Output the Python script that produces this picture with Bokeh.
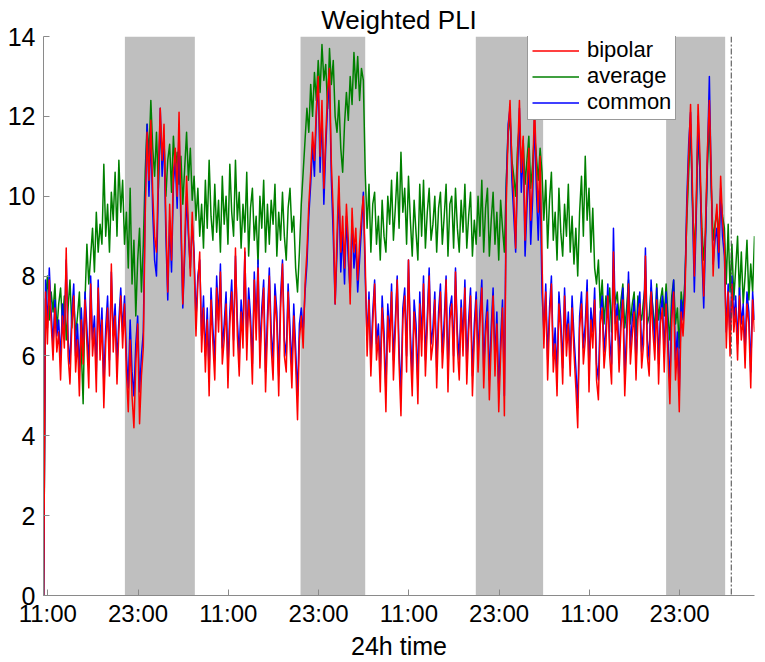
import numpy as np
from bokeh.plotting import figure
from bokeh.models import Range1d, FixedTicker, BoxAnnotation, Span, Legend, LegendItem
from bokeh.embed import file_html
from bokeh.resources import INLINE

# ---- data: hours since the first 11:00 tick, one sample every 0.25 h ----
t0 = -0.55
dt = 0.25

bipolar = [
    0.0,
    7.6, 6.3, 7.9, 6.8, 5.9, 7.2, 6.1, 6.6, 5.4, 7.0,
    6.2, 8.7, 6.0, 5.3, 6.8, 7.5, 5.6, 6.4, 5.0, 6.9,
    5.8, 7.4, 6.3, 5.2, 7.8, 6.0, 6.7, 5.1, 7.7, 5.9,
    6.9, 4.7, 6.3, 7.2, 5.5, 8.3, 6.1, 7.0, 5.3, 6.6,
    7.5, 6.2, 7.3,
    5.6, 4.6, 6.4, 5.0, 4.2, 5.8, 6.8, 4.3, 5.5, 6.2,
    9.5, 11.6, 10.4, 11.9, 10.1, 9.0, 8.6, 10.6, 12.2, 10.9,
    11.8, 9.4, 7.6, 9.8, 8.4, 10.6, 11.2, 10.0, 12.1, 9.6,
    7.3, 8.8, 10.5, 9.2, 8.0, 9.6, 8.4,
    6.5, 7.8, 8.6, 6.1, 7.2, 5.6, 6.9, 5.0, 7.4, 6.3,
    5.4, 7.7, 6.6, 8.1, 5.8, 6.4, 7.3, 5.2, 6.8, 7.6,
    6.0, 8.7, 6.5, 5.5, 7.1, 6.2, 8.7, 5.9, 7.4, 6.7,
    5.3, 7.9, 6.4, 8.2, 5.7, 6.9, 7.7, 5.1, 6.6, 8.0,
    6.2, 5.4, 7.5, 6.8, 5.0, 7.2, 8.3, 6.0, 5.6, 7.6,
    6.3, 5.2, 7.0, 5.8, 4.4, 6.4,
    7.0, 6.2, 7.8, 8.6, 9.8, 10.6, 11.6, 10.9, 12.2, 13.0,
    11.0, 12.4, 10.2, 11.5, 12.6, 13.2, 10.8, 9.6, 7.3, 9.0,
    10.5, 8.6, 9.5, 8.2, 9.8, 8.9, 7.3, 9.7, 8.6, 9.2,
    7.9, 8.8, 9.5, 10.0, 8.4,
    6.0, 7.4, 5.5, 6.8, 7.8, 5.9, 6.5, 5.1, 7.2, 6.3,
    4.6, 7.0, 6.1, 7.6, 5.4, 6.6, 7.9, 5.8, 4.5, 6.9,
    7.5, 5.6, 8.4, 6.2, 5.0, 7.1, 6.4, 4.8, 7.3, 6.0,
    7.8, 5.5, 6.7, 8.0, 5.9, 6.3, 7.4, 5.2, 6.8, 7.6,
    5.7, 6.5, 7.9, 5.1, 6.9, 7.3, 5.6, 8.1, 6.2, 5.4,
    7.2, 6.0, 7.7, 5.3, 6.6, 7.5, 5.0, 6.4,
    7.4, 5.6, 6.8, 7.7, 5.2, 6.5, 7.1, 4.9, 6.3, 7.5,
    5.5, 6.8, 4.6, 6.0, 7.2, 4.5,
    9.8, 11.6, 12.4, 10.8, 10.0, 8.7, 11.0, 12.4, 10.6, 11.5,
    8.9, 10.2, 11.2, 9.4, 10.4, 12.3, 10.8, 9.6, 11.0, 8.4,
    6.2, 7.6, 5.4, 6.9, 7.8, 5.6, 6.3, 5.0, 7.3, 6.6,
    5.3, 7.5, 6.0, 6.8, 5.5, 7.2, 6.1, 5.2, 4.2, 6.7,
    7.3, 5.8, 6.4, 7.6, 5.1, 6.9, 6.2, 7.4, 5.4, 4.9,
    6.8, 7.2, 5.7, 6.3, 7.5, 6.0, 5.3, 8.6, 6.4, 7.0,
    5.6, 6.7, 7.4, 5.0, 6.2, 7.8, 5.8, 6.5, 7.1, 5.4,
    6.9, 7.3, 5.7, 6.3, 8.5, 6.0, 5.5, 7.6, 6.6, 5.9,
    7.4, 5.3, 6.8, 7.2, 5.6,
    7.3, 6.0, 4.8, 6.9, 7.6, 5.4, 6.2, 4.6, 7.1, 6.5, 7.4,
    9.6, 11.0, 12.3, 10.2, 8.0, 9.8, 12.3, 11.0, 9.0, 7.5,
    9.4, 11.2, 12.4, 10.6, 8.0, 9.2, 9.8, 8.6, 10.5, 9.4, 8.8,
    6.2, 7.6, 6.0, 7.8, 6.6, 7.2, 5.9, 7.5, 6.4, 7.0,
    5.7, 7.3, 6.8, 5.2, 7.4, 6.6,
]

common = [
    0.0,
    7.9, 6.7, 8.2, 7.1, 6.3, 7.4, 6.5, 6.9, 5.9, 7.3,
    6.6, 8.4, 6.4, 5.8, 7.1, 7.8, 6.0, 6.8, 5.6, 7.2,
    6.2, 7.6, 6.7, 5.7, 8.0, 6.4, 7.0, 5.6, 7.9, 6.3,
    7.2, 5.3, 6.7, 7.5, 5.9, 8.1, 6.5, 7.3, 5.8, 6.9,
    7.7, 6.6, 7.5,
    6.0, 5.2, 6.9, 5.6, 5.0, 6.3, 7.0, 5.1, 6.0, 6.6,
    9.9, 11.8, 10.0, 11.6, 9.6, 8.4, 8.0, 10.2, 12.2, 10.5,
    11.5, 9.0, 7.4, 9.4, 8.1, 10.3, 10.9, 9.7, 11.7, 9.2,
    7.2, 8.5, 10.0, 9.0, 8.2, 9.3, 8.6,
    6.9, 8.0, 8.4, 6.5, 7.5, 6.0, 7.2, 5.5, 7.7, 6.7,
    5.9, 8.0, 6.9, 8.3, 6.2, 6.8, 7.6, 5.7, 7.1, 7.9,
    6.4, 8.5, 6.9, 6.0, 7.4, 6.6, 8.6, 6.3, 7.7, 7.0,
    5.8, 8.1, 6.8, 8.4, 6.1, 7.2, 7.9, 5.6, 7.0, 8.2,
    6.6, 5.9, 7.8, 7.1, 5.5, 7.5, 8.4, 6.4, 6.0, 7.8,
    6.7, 5.7, 7.3, 6.2, 5.0, 6.8,
    7.2, 6.6, 7.6, 8.3, 9.5, 10.3, 11.3, 10.5, 12.0, 12.9,
    10.6, 12.1, 9.8, 11.2, 12.3, 12.9, 10.4, 9.0, 7.3, 8.6,
    10.2, 8.1, 9.1, 7.8, 9.5, 8.4, 7.6, 9.4, 8.2, 8.8,
    7.6, 8.4, 9.2, 10.1, 8.0,
    6.4, 7.6, 5.9, 7.1, 7.9, 6.3, 6.8, 5.6, 7.5, 6.6,
    5.1, 7.3, 6.5, 7.8, 5.9, 6.9, 8.0, 6.2, 5.0, 7.2,
    7.7, 6.0, 8.4, 6.6, 5.5, 7.4, 6.8, 5.3, 7.6, 6.4,
    8.0, 5.9, 7.0, 8.2, 6.3, 6.7, 7.6, 5.7, 7.1, 7.8,
    6.1, 6.9, 8.0, 5.6, 7.2, 7.5, 6.0, 8.2, 6.6, 5.9,
    7.4, 6.4, 7.9, 5.8, 6.9, 7.7, 5.5, 6.8,
    7.6, 6.0, 7.1, 7.9, 5.7, 6.8, 7.4, 5.4, 6.7, 7.7,
    5.9, 7.1, 5.1, 6.4, 7.4, 5.0,
    10.2, 11.8, 12.2, 10.4, 9.5, 8.6, 10.6, 12.2, 10.1, 11.2,
    8.5, 9.7, 10.8, 8.8, 9.9, 12.0, 10.2, 8.9, 10.4, 7.6,
    6.6, 7.8, 5.9, 7.2, 8.0, 6.0, 6.7, 5.5, 7.6, 6.9,
    5.7, 7.7, 6.4, 7.1, 5.9, 7.5, 6.5, 5.7, 4.7, 7.0,
    7.6, 6.2, 6.8, 7.9, 5.6, 7.2, 6.6, 7.7, 5.8, 5.4,
    7.1, 7.5, 6.1, 6.7, 7.8, 6.4, 5.8, 9.2, 6.8, 7.3,
    6.0, 7.0, 7.7, 5.5, 6.6, 8.1, 6.2, 6.9, 7.4, 5.8,
    7.2, 7.6, 6.1, 6.7, 8.7, 6.4, 5.9, 7.9, 7.0, 6.3,
    7.7, 5.8, 7.1, 7.5, 6.0,
    7.6, 6.4, 5.3, 7.2, 7.9, 5.9, 6.6, 5.1, 7.4, 6.9, 7.7,
    9.9, 11.3, 12.1, 9.8, 7.6, 9.4, 12.0, 10.6, 8.6, 7.2,
    9.0, 11.0, 13.0, 10.3, 8.3, 8.9, 9.2, 8.2, 10.2, 9.0, 8.5,
    6.6, 7.8, 6.4, 8.0, 6.9, 7.5, 6.3, 7.7, 6.8, 7.3,
    6.1, 7.6, 7.1, 5.6, 7.6, 6.9,
]

average = [
    0.0,
    7.4, 8.0, 6.9, 7.6, 7.1, 7.8, 6.6, 7.3, 7.7, 6.8,
    7.5, 6.4, 7.2, 7.9, 6.7, 7.4, 6.5, 7.0, 7.6, 6.2,
    4.8, 7.4, 8.8, 7.8, 8.5, 9.2, 8.1, 9.6, 8.6, 9.3,
    8.8, 10.8, 9.0, 9.8, 8.6, 10.1, 9.4, 10.6, 9.0, 10.9,
    9.6, 10.4, 8.8,
    9.6, 8.2, 10.2, 7.8, 8.9, 7.0, 8.4, 9.2, 7.6, 8.8,
    10.6, 11.8, 11.0, 12.4, 11.2, 10.5, 11.6, 10.2, 11.9, 10.8,
    11.4, 10.0, 10.9, 11.3, 10.1, 11.5, 10.6, 11.1, 10.3, 11.0,
    9.8, 10.7, 11.6, 10.4, 11.2, 9.9, 10.5,
    9.4, 10.2, 9.0, 9.8, 8.7, 10.4, 9.2, 10.9, 9.5, 8.9,
    10.3, 9.1, 9.9, 8.6, 10.5, 9.3, 10.0, 8.8, 10.8, 9.6,
    9.0, 10.9, 9.4, 10.1, 8.7, 9.8, 9.1, 10.6, 8.5, 9.7,
    10.2, 8.9, 9.5, 8.3, 10.0, 9.2, 10.4, 8.6, 9.8, 8.8,
    9.9, 9.3, 10.3, 8.5, 9.6, 8.9, 10.1, 9.0, 8.4, 9.7,
    10.2, 9.1, 9.5, 8.2, 7.6, 8.6,
    9.8, 10.6, 11.4, 12.2, 11.6, 12.8, 12.0, 13.1, 12.4, 13.4,
    12.6, 13.8, 12.9, 13.3, 12.2, 13.7, 12.8, 13.4, 12.0, 11.6,
    12.4, 11.2, 10.6, 11.8, 12.6, 11.9, 13.0, 12.3, 13.6, 12.7,
    13.5, 12.4, 13.2, 12.9, 10.6,
    9.2, 10.3, 8.6, 9.8, 10.1, 8.8, 9.5, 8.4, 9.9, 9.0,
    8.6, 10.0, 9.3, 10.4, 8.9, 9.7, 10.6, 9.2, 11.1, 9.6,
    10.2, 8.8, 10.5, 9.4, 8.5, 9.9, 9.1, 8.4, 10.3, 9.0,
    10.4, 8.7, 9.6, 10.2, 8.9, 9.3, 10.0, 8.6, 9.7, 10.1,
    8.8, 9.5, 10.3, 8.5, 9.8, 10.0, 8.7, 10.2, 9.2, 8.6,
    9.9, 9.1, 10.3, 8.7, 9.5, 10.1, 8.5, 9.4,
    8.8, 10.0, 9.0, 10.4, 8.6, 9.7, 10.2, 8.5, 9.4, 10.1,
    8.8, 9.6, 8.4, 9.9, 9.2, 8.6,
    10.4, 11.6, 12.0, 10.9, 10.5, 10.0, 11.2, 11.8, 10.6, 11.4,
    10.3, 10.9, 11.5, 10.2, 10.8, 11.6, 11.0, 10.4, 11.2, 10.6,
    9.4, 10.4, 8.7, 9.9, 10.6, 8.9, 9.6, 8.4, 10.2, 9.1,
    8.5, 9.8, 9.0, 10.3, 8.6, 9.5, 8.3, 9.2, 8.0, 9.6,
    10.5, 9.0, 11.0, 9.4, 10.2, 8.6, 9.7, 8.2, 7.8, 8.4,
    7.2, 7.9, 6.8, 7.5, 7.0, 7.7, 6.6, 8.0, 7.3, 7.6,
    6.9, 7.4, 7.8, 6.7, 7.2, 7.9, 6.8, 7.3, 7.6, 6.5,
    7.5, 7.1, 6.9, 7.4, 7.8, 6.8, 7.0, 7.7, 7.2, 6.6,
    7.8, 6.9, 7.4, 7.7, 7.0,
    7.8, 7.0, 6.4, 7.5, 7.9, 6.8, 7.2, 6.2, 7.6, 7.1, 7.9,
    9.4, 10.6, 11.8, 9.9, 8.6, 9.6, 11.6, 10.6, 9.2, 8.4,
    9.1, 10.8, 11.9, 10.2, 8.9, 9.3, 9.6, 9.0, 10.0, 9.5, 9.2,
    7.8, 9.3, 7.6, 8.8, 7.4, 8.2, 9.0, 7.5, 8.6, 7.3,
    8.0, 8.9, 7.4, 8.3, 7.6, 9.0,
]

tick_hours = [0, 12, 24, 36, 48, 60, 72, 84]
tick_labels = ["11:00", "23:00", "11:00", "23:00", "11:00", "23:00", "11:00", "23:00"]
y_ticks = [0, 2, 4, 6, 8, 10, 12, 14]

night_start = [10.25, 33.6, 56.9, 82.2]
night_end = [19.55, 42.2, 65.85, 90.05]
marker_hour = 90.86

series_names = ["bipolar", "average", "common"]
series_colors = {"bipolar": "#ff0000", "average": "#008000", "common": "#0000ff"}
x_lo, x_hi = -0.57, 93.95


def hours_for(vals):
    return [t0 + dt * i for i in range(len(vals))]


FONT = "Liberation Sans"

p = figure(
    width=758, height=662,
    output_backend="svg", toolbar_location=None,
    x_range=Range1d(x_lo, x_hi), y_range=Range1d(0, 14),
    min_border_left=43, min_border_right=4, min_border_top=36, min_border_bottom=66,
)
p.background_fill_color = "white"
p.border_fill_color = "white"
p.outline_line_color = None
p.grid.visible = False

p.title.text = "Weighted PLI"
p.title.align = "center"
p.title.text_font = FONT
p.title.text_font_size = "26px"
p.title.text_font_style = "normal"
p.title.text_color = "black"
if hasattr(p.title, "standoff"):
    p.title.standoff = 4
p.title.offset = 0

for ax in (p.xaxis[0], p.yaxis[0]):
    ax.axis_line_color = "#8a8a8a"
    ax.major_tick_line_color = "#8a8a8a"
    ax.minor_tick_line_color = None
    ax.major_tick_in = 6
    ax.major_tick_out = 0
    ax.major_label_text_font = FONT
    ax.major_label_text_color = "black"

p.xaxis.ticker = FixedTicker(ticks=tick_hours)
p.xaxis.major_label_overrides = {h: lab for h, lab in zip(tick_hours, tick_labels)}
p.xaxis.major_label_text_font_size = "24px"
p.xaxis.major_label_standoff = 4
p.xaxis.axis_label = "24h time"
p.xaxis.axis_label_text_font = FONT
p.xaxis.axis_label_text_font_size = "25px"
p.xaxis.axis_label_text_font_style = "normal"
p.xaxis.axis_label_text_color = "black"
p.xaxis.axis_label_standoff = 2

p.yaxis.ticker = FixedTicker(ticks=y_ticks)
p.yaxis.major_label_text_font_size = "25px"
p.yaxis.major_label_standoff = 8

for s, e in zip(night_start, night_end):
    p.add_layout(BoxAnnotation(left=s, right=e, fill_color="#bfbfbf", fill_alpha=1.0,
                               line_color=None, level="underlay"))

data = {"bipolar": bipolar, "average": average, "common": common}
renderers = {}
for name in ["average", "common", "bipolar"]:
    vals = data[name]
    renderers[name] = p.line(hours_for(vals), vals, line_color=series_colors[name],
                             line_width=1.5, line_join="round")

p.add_layout(Span(location=marker_hour, dimension="height", line_color="#444444",
                  line_width=1, line_dash="6 2 2 2"))

legend = Legend(
    items=[LegendItem(label=n, renderers=[renderers[n]]) for n in series_names],
    location=(484, 475),
    label_text_font=FONT, label_text_font_size="22px", label_text_color="black",
    glyph_width=47, glyph_height=25, label_height=25, label_standoff=8,
    spacing=0, padding=4, margin=0,
    border_line_color="#333333", border_line_width=1,
    background_fill_color="white", background_fill_alpha=1.0,
)
p.add_layout(legend, "center")

open("out.html", "w").write(file_html(p, INLINE))
